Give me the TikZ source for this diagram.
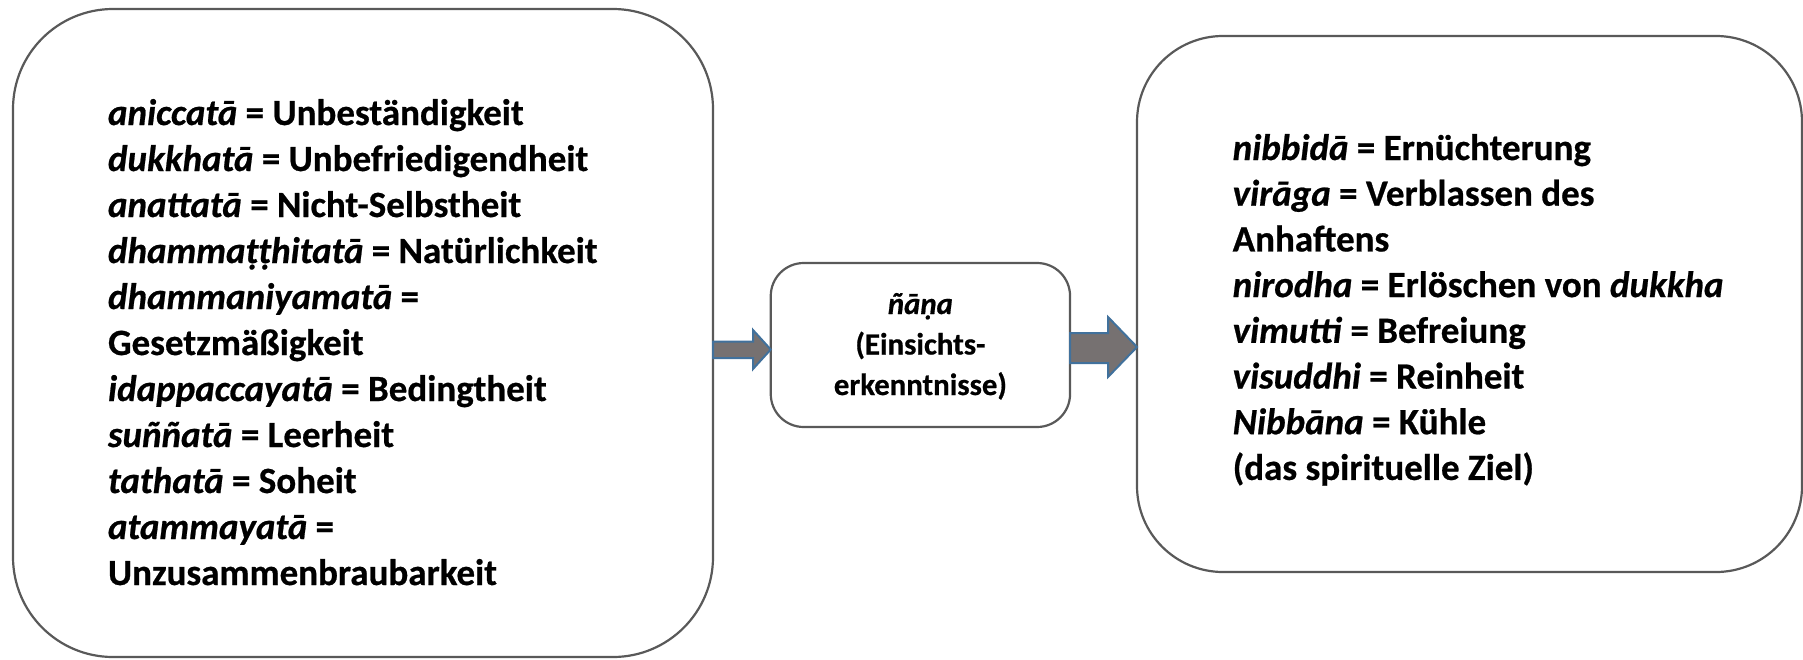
\documentclass[tikz,border=0pt]{standalone}
\usepackage{fontspec}
\setmainfont{Carlito}[BoldFeatures={FakeBold=0.6},BoldItalicFeatures={FakeBold=0.6}]
\usetikzlibrary{calc}
\definecolor{boxline}{RGB}{89,89,89}
\definecolor{arrfill}{RGB}{118,113,113}
\definecolor{arrline}{RGB}{65,113,156}
\tikzset{
  bigbox/.style={draw=boxline, line width=2.2pt, fill=white, inner sep=0pt, outer sep=0pt},
  txt/.style={inner sep=0pt, outer sep=0pt},
  barrow/.style={draw=arrline, fill=arrfill, line width=2pt, line join=miter}
}
\begin{document}
\begin{tikzpicture}[x=1pt, y=-1pt]
\useasboundingbox (0,0) rectangle (1803,659);
% boxes
\node[bigbox, rounded corners=100pt, minimum width=700pt, minimum height=648pt] (L) at (363,333) {};
\node[bigbox, rounded corners=33pt, minimum width=299.3pt, minimum height=164pt] (M) at (920.4,345) {};
\node[bigbox, rounded corners=86pt, minimum width=665pt, minimum height=536pt] (R) at (1469.5,304) {};
% texts
\node[txt, anchor=base west] (Ltext) at (108,125) {\fontsize{37pt}{46pt}\selectfont\bfseries
\vtop{\baselineskip=46pt
\hbox{\textit{aniccatā} = Unbeständigkeit}
\hbox{\textit{dukkhatā} = Unbefriedigendheit}
\hbox{\textit{anattatā} = Nicht-Selbstheit}
\hbox{\textit{dhammaṭṭhitatā} = Natürlichkeit}
\hbox{\textit{dhammaniyamatā} =}
\hbox{Gesetzmäßigkeit}
\hbox{\textit{idappaccayatā} = Bedingtheit}
\hbox{\textit{suññatā} = Leerheit}
\hbox{\textit{tathatā} = Soheit}
\hbox{\textit{atammayatā} =}
\hbox{Unzusammenbraubarkeit}}};
\node[txt, anchor=base west] (Rtext) at (1232.7,160) {\fontsize{37pt}{45.7pt}\selectfont\bfseries
\vtop{\baselineskip=45.7pt
\hbox{\textit{nibbidā} = Ernüchterung}
\hbox{\textit{virāga} = Verblassen des}
\hbox{Anhaftens}
\hbox{\textit{nirodha} = Erlöschen von \textit{dukkha}}
\hbox{\textit{vimutti} = Befreiung}
\hbox{\textit{visuddhi} = Reinheit}
\hbox{\textit{Nibbāna} = Kühle}
\hbox{(das spirituelle Ziel)}}};
\node[txt, anchor=base] (Mtext) at (920.4,314) {\fontsize{30.8pt}{40.5pt}\selectfont\bfseries
\vtop{\baselineskip=40.5pt\tabskip=0pt
\halign{\hfil#\hfil\cr
\textit{ñāṇa}\cr
(Einsichts-\cr
erkenntnisse)\cr}}};
% block arrows
\draw[barrow] (L.east |- 0,341.7) -- (753,341.7) -- (753,330) -- (M.west |- 0,349.5)
  -- (753,369) -- (753,358) -- (L.east |- 0,358) -- cycle;
\draw[barrow] (M.east |- 0,333) -- (1108,333) -- (1108,317) -- (R.west |- 0,347)
  -- (1108,377) -- (1108,363) -- (M.east |- 0,363) -- cycle;
\end{tikzpicture}
\end{document}
